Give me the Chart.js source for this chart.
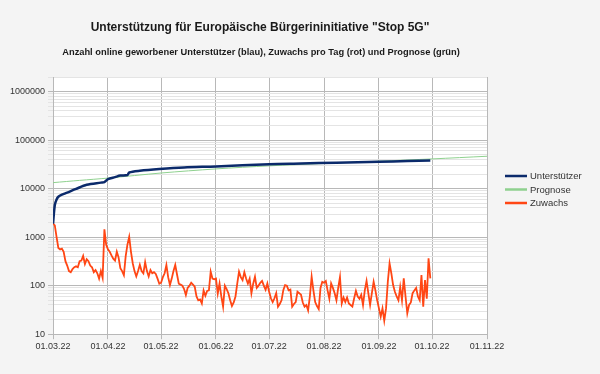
<!DOCTYPE html>
<html>
<head>
<meta charset="utf-8">
<script src="https://cdn.jsdelivr.net/npm/chart.js@4.4.0/dist/chart.umd.min.js"></script>
<style>
  html, body { margin: 0; padding: 0; background: #f4f4f4; }
</style>
</head>
<body>
<canvas id="supportChart" width="600" height="374"></canvas>
<script>
// days counted from 01.03.22
const monthDays = [0, 31, 61, 92, 122, 153, 184, 214, 245];
const monthLabels = ['01.03.22', '01.04.22', '01.05.22', '01.06.22', '01.07.22', '01.08.22', '01.09.22', '01.10.22', '01.11.22'];
const decades = [10, 100, 1000, 10000, 100000, 1000000];
const minorSteps = [1, 2, 3, 4, 5, 6, 7, 8, 9];
const yMin = 10;
const yMax = 2000000;

const titleText = 'Unterstützung für Europäische Bürgerininitiative "Stop 5G"';
const subtitleText = 'Anzahl online geworbener Unterstützer (blau), Zuwachs pro Tag (rot) und Prognose (grün)';

// daily growth (red), day 0 .. 213
const zuwachs = [
  1900, 1750, 1000, 600, 560, 580, 500, 320, 260, 200,
  190, 220, 240, 250, 240, 320, 330, 410, 280, 350,
  320, 260, 240, 190, 210, 180, 140, 200, 145, 1450,
  700, 560, 500, 420, 360, 330, 500, 380, 230, 200,
  165, 400, 700, 1020, 500, 290, 200, 155, 200, 270,
  200, 180, 305, 200, 155, 210, 180, 190, 175, 140,
  110, 115, 150, 180, 267, 150, 103, 140, 200, 267,
  170, 110, 105, 100, 85, 64, 90, 100, 115, 105,
  95, 60, 50, 52, 43, 80, 62, 78, 80, 194,
  140, 135, 140, 69, 111, 60, 37, 100, 85, 70,
  50, 38, 45, 60, 110, 194, 150, 130, 190, 140,
  111, 140, 70, 110, 153, 90, 100, 115, 125, 100,
  82, 111, 75, 55, 46, 55, 70, 37, 42, 50,
  81, 103, 100, 80, 83, 37, 42, 46, 75, 70,
  65, 45, 37, 40, 31, 60, 153, 80, 46, 38,
  33, 90, 120, 115, 125, 80, 54, 111, 90, 70,
  50, 90, 150, 43, 57, 46, 57, 43, 40, 37,
  55, 78, 60, 54, 65, 40, 80, 125, 70, 40,
  70, 120, 80, 50, 34, 23, 34, 19, 34, 120,
  289, 180, 103, 75, 60, 50, 94, 50, 141, 60,
  27, 40, 45, 70, 80, 90, 60, 50, 166, 37,
  130, 54, 366, 141
];

// supporters (blue)
const unterstuetzerDays = [0, 1, 2, 3, 5, 8, 13, 19, 27, 29, 31, 35, 38, 42, 43, 49, 60, 74, 92, 122, 140, 160, 184, 200, 213];
const unterstuetzer = [1900, 4600, 6000, 6800, 7500, 8300, 9900, 12000, 13300, 13600, 15700, 17300, 18600, 19100, 21500, 23300, 25300, 27300, 28700, 32000, 33000, 34300, 35800, 37000, 38000];

// forecast (green)
const prognoseDays = [0, 15, 31, 61, 92, 122, 153, 184, 214, 245];
const prognose = [13300, 14800, 16500, 21000, 25500, 29500, 33000, 36800, 41000, 46500];

const axisFont = { family: 'Liberation Sans', size: 9 };
const gridMajor = '#b8b8b8';
const gridMinor = '#e4e4e4';

const yTickValues = [];
decades.forEach(d => minorSteps.forEach(m => { if (d * m <= yMax) yTickValues.push(d * m); }));

const backgroundPlugin = {
  id: 'background',
  beforeDraw(chart) {
    const { ctx, chartArea: a } = chart;
    ctx.save();
    ctx.fillStyle = '#f4f4f4';
    ctx.fillRect(0, 0, chart.width, chart.height);
    ctx.fillStyle = '#ffffff';
    ctx.fillRect(a.left, a.top, a.right - a.left, a.bottom - a.top);
    ctx.restore();
  }
};

// title block is centred on the page minus the legend column, like the original
const headerPlugin = {
  id: 'header',
  afterDraw(chart) {
    const { ctx } = chart;
    ctx.save();
    ctx.fillStyle = '#1a1a1a';
    ctx.textAlign = 'center';
    ctx.textBaseline = 'middle';
    ctx.font = 'bold 12px "Liberation Sans"';
    ctx.fillText(titleText, 260, 28);
    ctx.font = 'bold 9.3px "Liberation Sans"';
    ctx.fillText(subtitleText, 261, 52);
    ctx.restore();
  }
};

// legend drawn at the right of the plot
const sideLegend = {
  id: 'sideLegend',
  afterDraw(chart) {
    const { ctx, chartArea: a } = chart;
    ctx.save();
    ctx.font = '9.5px "Liberation Sans"';
    ctx.textBaseline = 'middle';
    chart.data.datasets.forEach((ds, i) => {
      const y = 176 + i * 13.5;
      const x = a.right + 18;
      ctx.strokeStyle = ds.borderColor;
      ctx.lineWidth = 2.5;
      ctx.beginPath();
      ctx.moveTo(x, y);
      ctx.lineTo(x + 22, y);
      ctx.stroke();
      ctx.fillStyle = '#333333';
      ctx.fillText(ds.label, x + 25, y + 0.5);
    });
    ctx.restore();
  }
};

const ctx = document.getElementById('supportChart').getContext('2d');
const chart = new Chart(ctx, {
  type: 'line',
  data: {
    datasets: [{
      label: 'Unterstützer',
      data: unterstuetzerDays.map((d, i) => ({ x: d, y: unterstuetzer[i] })),
      borderColor: '#0b2a6b',
      borderWidth: 2.5,
      pointRadius: 0,
      tension: 0.3
    }, {
      label: 'Prognose',
      data: prognoseDays.map((d, i) => ({ x: d, y: prognose[i] })),
      borderColor: '#8fd18f',
      borderWidth: 1,
      pointRadius: 0,
      tension: 0.3
    }, {
      label: 'Zuwachs',
      data: zuwachs.map((v, i) => ({ x: i, y: v })),
      borderColor: '#ff4614',
      borderWidth: 1.8,
      pointRadius: 0,
      tension: 0
    }]
  },
  options: {
    responsive: false,
    animation: false,
    layout: { padding: { left: 7, right: 113, top: 77, bottom: 20 } },
    plugins: {
      legend: { display: false },
      tooltip: { enabled: false },
      title: { display: false },
      subtitle: { display: false }
    },
    scales: {
      x: {
        type: 'linear',
        min: 0,
        max: 245,
        afterBuildTicks: s => { s.ticks = monthDays.map(v => ({ value: v })); },
        ticks: {
          autoSkip: false,
          maxRotation: 0,
          color: '#333333',
          font: axisFont,
          padding: 2,
          callback: (v, i) => monthLabels[i]
        },
        grid: { color: gridMajor, tickLength: 5 },
        border: { color: gridMajor }
      },
      y: {
        type: 'logarithmic',
        min: yMin,
        max: yMax,
        afterBuildTicks: s => { s.ticks = yTickValues.map(v => ({ value: v, major: decades.includes(v) })); },
        ticks: {
          autoSkip: false,
          color: '#333333',
          font: axisFont,
          padding: 3,
          callback: v => decades.includes(v) ? String(v) : ''
        },
        grid: {
          color: c => decades.includes(c.tick.value) ? gridMajor : gridMinor,
          tickColor: c => decades.includes(c.tick.value) ? gridMajor : gridMinor,
          tickLength: 5
        },
        border: { color: gridMajor }
      }
    }
  },
  plugins: [backgroundPlugin, headerPlugin, sideLegend]
});
</script>
</body>
</html>
